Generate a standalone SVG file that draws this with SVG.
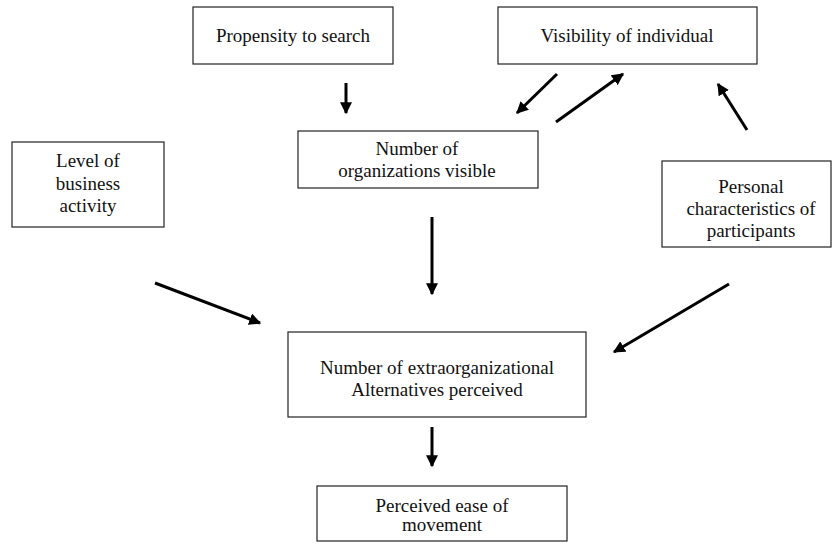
<svg xmlns="http://www.w3.org/2000/svg" width="833" height="544" viewBox="0 0 833 544">
<style>
.box{fill:#fff;stroke:#222;stroke-width:1.2}
text{font-family:"Liberation Serif","Times New Roman",serif;font-size:19px;fill:#111;text-anchor:middle}
.c{stroke:#000;stroke-width:3;fill:none;marker-end:url(#ah)}
</style>
<defs>
<marker id="ah" viewBox="0 0 10 10" refX="9" refY="5" markerWidth="4" markerHeight="4" orient="auto" markerUnits="strokeWidth">
<path d="M0,0 L10,5 L0,10 z" fill="#000"/>
</marker>
</defs>
<rect width="833" height="544" fill="#fff"/>
<g id="propensity"><rect class="box" x="193" y="7" width="200" height="57"/><text x="293" y="42">Propensity to search</text></g>
<g id="visibility"><rect class="box" x="498" y="7" width="259" height="57"/><text x="627" y="42">Visibility of individual</text></g>
<g id="orgs"><rect class="box" x="298" y="131" width="240" height="57"/><text x="417" y="155">Number of</text><text x="417" y="177">organizations visible</text></g>
<g id="level"><rect class="box" x="12" y="142" width="152" height="85"/><text x="88" y="167">Level of</text><text x="88" y="190">business</text><text x="88" y="212">activity</text></g>
<g id="personal"><rect class="box" x="662" y="161" width="169" height="86"/><text x="751" y="193">Personal</text><text x="751" y="215">characteristics of</text><text x="751" y="237">participants</text></g>
<g id="alternatives"><rect class="box" x="288" y="332" width="298" height="85"/><text x="437" y="374">Number of extraorganizational</text><text x="437" y="396">Alternatives perceived</text></g>
<g id="ease"><rect class="box" x="317" y="486" width="250" height="55"/><text x="442" y="512">Perceived ease of</text><text x="442" y="531">movement</text></g>
<g id="connectors">
<line class="c" x1="346" y1="83" x2="346" y2="113"/>
<line class="c" x1="557" y1="74" x2="517" y2="113"/>
<line class="c" x1="556" y1="122" x2="623" y2="74"/>
<line class="c" x1="747" y1="130" x2="718" y2="84"/>
<line class="c" x1="432" y1="217" x2="432" y2="294"/>
<line class="c" x1="155" y1="283" x2="260" y2="323"/>
<line class="c" x1="729" y1="284" x2="614" y2="352"/>
<line class="c" x1="432" y1="427" x2="432" y2="466"/>
</g>
</svg>
